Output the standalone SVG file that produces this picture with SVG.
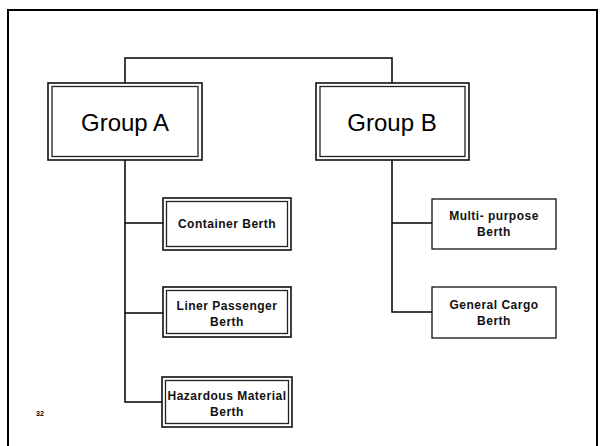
<svg xmlns="http://www.w3.org/2000/svg" width="600" height="446" viewBox="0 0 600 446">
  <style>
    .frame { fill: none; stroke: #000; stroke-width: 2; }
    .outer { fill: #fff; stroke: #111; stroke-width: 1.6; }
    .inner { fill: none; stroke: #222; stroke-width: 1.3; }
    .plain { fill: #fff; stroke: #111; stroke-width: 1.3; }
    .wire { fill: none; stroke: #000; stroke-width: 1.5; }
    .big { font-family: "Liberation Sans", Arial, sans-serif; font-size: 24px; fill: #000; text-anchor: middle; }
    .small { font-family: "Liberation Sans", Arial, sans-serif; font-size: 12px; font-weight: bold; letter-spacing: 0.5px; fill: #111; text-anchor: middle; }
    .page { font-family: "Liberation Sans", Arial, sans-serif; font-size: 7px; font-weight: bold; fill: #000; }
  </style>

  <rect width="600" height="446" fill="#fff"/>
  <!-- slide frame -->
  <rect class="frame" x="8" y="10" width="589" height="445"/>

  <!-- connectors -->
  <g id="connectors">
    <polyline class="wire" points="125,83 125,58 392,58 392,83"/>
    <polyline class="wire" points="125,160 125,402 163,402"/>
    <line class="wire" x1="125" y1="223" x2="163" y2="223"/>
    <line class="wire" x1="125" y1="313" x2="163" y2="313"/>
    <polyline class="wire" points="392,160 392,312 432,312"/>
    <line class="wire" x1="392" y1="223" x2="432" y2="223"/>
  </g>

  <g id="group-a">
    <rect class="outer" x="48" y="83" width="154" height="77"/>
    <rect class="inner" x="52" y="86.5" width="146" height="70"/>
    <text class="big" x="125" y="131">Group A</text>
  </g>

  <g id="group-b">
    <rect class="outer" x="316" y="83" width="153" height="77"/>
    <rect class="inner" x="320" y="86.5" width="145" height="70"/>
    <text class="big" x="392" y="131">Group B</text>
  </g>

  <g id="container-berth">
    <rect class="outer" x="163" y="198" width="128" height="52"/>
    <rect class="inner" x="166.5" y="201.5" width="121" height="45"/>
    <text class="small" x="227" y="228">Container Berth</text>
  </g>

  <g id="liner-passenger-berth">
    <rect class="outer" x="163" y="287" width="128" height="50"/>
    <rect class="inner" x="166.5" y="290.5" width="121" height="43"/>
    <text class="small" x="227" y="310">Liner Passenger</text>
    <text class="small" x="227" y="326">Berth</text>
  </g>

  <g id="hazardous-material-berth">
    <rect class="outer" x="162" y="377" width="130" height="50"/>
    <rect class="inner" x="165.5" y="380.5" width="123" height="43"/>
    <text class="small" x="227" y="400">Hazardous Material</text>
    <text class="small" x="227" y="416">Berth</text>
  </g>

  <g id="multi-purpose-berth">
    <rect class="plain" x="432" y="199" width="124" height="50"/>
    <text class="small" x="494" y="220">Multi- purpose</text>
    <text class="small" x="494" y="236">Berth</text>
  </g>

  <g id="general-cargo-berth">
    <rect class="plain" x="432" y="287" width="124" height="51"/>
    <text class="small" x="494" y="309">General Cargo</text>
    <text class="small" x="494" y="325">Berth</text>
  </g>

  <text class="page" x="36" y="416">32</text>
</svg>
